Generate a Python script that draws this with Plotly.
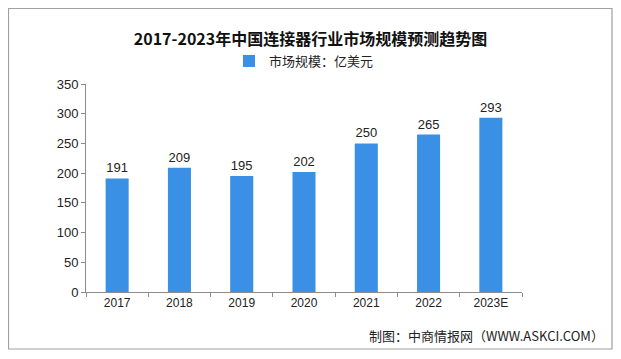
import plotly.graph_objects as go

years = ["2017", "2018", "2019", "2020", "2021", "2022", "2023E"]
market_size = [191, 209, 195, 202, 250, 265, 293]
series_name = "市场规模：亿美元"
title_text = "2017-2023年中国连接器行业市场规模预测趋势图"
source_text = "制图：中商情报网（WWW.ASKCI.COM）"
y_ticks = [0, 50, 100, 150, 200, 250, 300, 350]

bar_color = "#3a90e5"
font_cjk = "Noto Sans CJK SC"
# the page body adds an 8px offset, so the figure is sized to fit the window
W, H = 605, 343
L, R, T, B = 78, 91, 76, 59
PW, PH = W - L - R, H - T - B

fig = go.Figure()
fig.add_trace(go.Bar(
    x=years, y=market_size, name=series_name,
    marker=dict(color=bar_color, line=dict(width=0)),
    width=0.37,
    text=[str(v) for v in market_size], textposition="outside",
    textfont=dict(size=13, color="#222222", family="Liberation Sans"),
    cliponaxis=False,
))

fig.update_layout(
    width=W, height=H,
    margin=dict(l=L, r=R, t=T, b=B, autoexpand=False),
    paper_bgcolor="white", plot_bgcolor="white",
    showlegend=True,
    legend=dict(orientation="h", x=0.5, xanchor="center", y=1 - 53 / H, yref="container", yanchor="middle",
                font=dict(size=13, family=font_cjk, color="#222222"),
                itemwidth=30, bgcolor="rgba(0,0,0,0)"),
    title=dict(text="<b>" + title_text + "</b>", x=0.5, xanchor="center", y=1 - 31 / H, yref="container",
               yanchor="middle", font=dict(size=16, family=font_cjk, color="#111111")),
    font=dict(family=font_cjk),
)
fig.update_xaxes(
    type="category", showline=True, linecolor="#8c8c8c", linewidth=1,
    ticks="outside", tickson="boundaries", ticklen=4, tickcolor="#8c8c8c",
    tickfont=dict(size=12, family="Liberation Sans", color="#222222"),
    showgrid=False,
)
fig.update_yaxes(
    range=[0, 350], tickvals=y_ticks, showline=True, linecolor="#8c8c8c", linewidth=1,
    ticks="outside", ticklen=4, tickcolor="#8c8c8c", showgrid=False, zeroline=False,
    tickfont=dict(size=13, family="Liberation Sans", color="#222222"),
)
fig.add_shape(type="rect", xref="paper", yref="paper",
              x0=(0.5 - L) / PW, x1=(W - 1 - L) / PW, y0=-(B - 2) / PH, y1=(T - 0.5 + PH) / PH,
              line=dict(color="#a0a0a0", width=1.2), fillcolor="rgba(0,0,0,0)", layer="below")
fig.add_annotation(text=source_text, xref="paper", yref="paper",
                   x=(598 - L) / PW, y=-(327 - (T + PH)) / PH, xanchor="right", yanchor="middle",
                   showarrow=False, font=dict(size=13, family=font_cjk, color="#222222"))

fig.write_html("out.html")
